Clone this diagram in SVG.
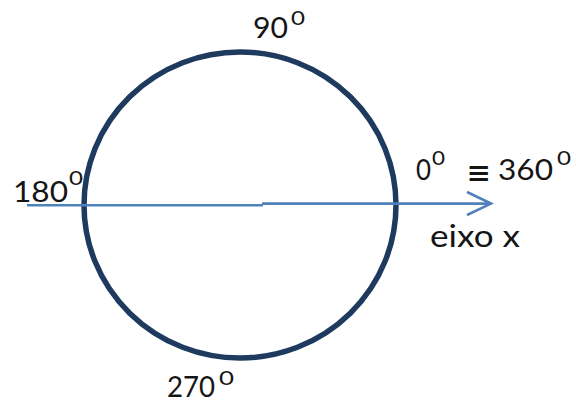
<svg xmlns="http://www.w3.org/2000/svg" width="576" height="403" viewBox="0 0 576 403">
<style>
.t{font-family:"Lato","Open Sans","Liberation Sans",sans-serif;fill:#151515}
.big{font-size:28px}
.sup{font-size:19px}
.ax{stroke:#4F81BD;stroke-width:2.6;fill:none}
</style>
<rect width="576" height="403" fill="#fff"/>
<g id="circle">
<ellipse cx="240" cy="205" rx="156" ry="153" fill="none" stroke="#1F3A5F" stroke-width="5.5"/>
</g>
<g id="connectors">
<path class="ax" d="M27 205.2H263"/>
<path class="ax" d="M262 203.6H491"/>
<path class="ax" d="M467 192L491 203.6L467 215"/>
</g>
<g id="label-90">
<text class="t big" x="253" y="38" textLength="35" lengthAdjust="spacingAndGlyphs">90</text>
<text class="t sup" x="291" y="25" textLength="14" lengthAdjust="spacingAndGlyphs">0</text>
</g>
<g id="label-180">
<text class="t big" x="13" y="202" textLength="55" lengthAdjust="spacingAndGlyphs">180</text>
<text class="t sup" x="69" y="185" textLength="14" lengthAdjust="spacingAndGlyphs">0</text>
</g>
<g id="label-0-360">
<text class="t big" x="416" y="180" textLength="15" lengthAdjust="spacingAndGlyphs">0</text>
<text class="t sup" x="432" y="165" textLength="13" lengthAdjust="spacingAndGlyphs">0</text>
<text class="t" x="467" y="185" font-size="34" font-weight="bold" font-family="DejaVu Sans, sans-serif" textLength="24" lengthAdjust="spacingAndGlyphs">≡</text>
<text class="t big" x="498" y="180" textLength="55" lengthAdjust="spacingAndGlyphs">360</text>
<text class="t sup" x="557" y="165" textLength="14" lengthAdjust="spacingAndGlyphs">0</text>
</g>
<g id="label-270">
<text class="t big" x="167" y="397" textLength="48" lengthAdjust="spacingAndGlyphs">270</text>
<text class="t sup" x="219" y="385" textLength="15" lengthAdjust="spacingAndGlyphs">0</text>
</g>
<g id="label-eixo">
<text class="t" x="430" y="247" font-size="30" textLength="90" lengthAdjust="spacingAndGlyphs">eixo x</text>
</g>
</svg>
